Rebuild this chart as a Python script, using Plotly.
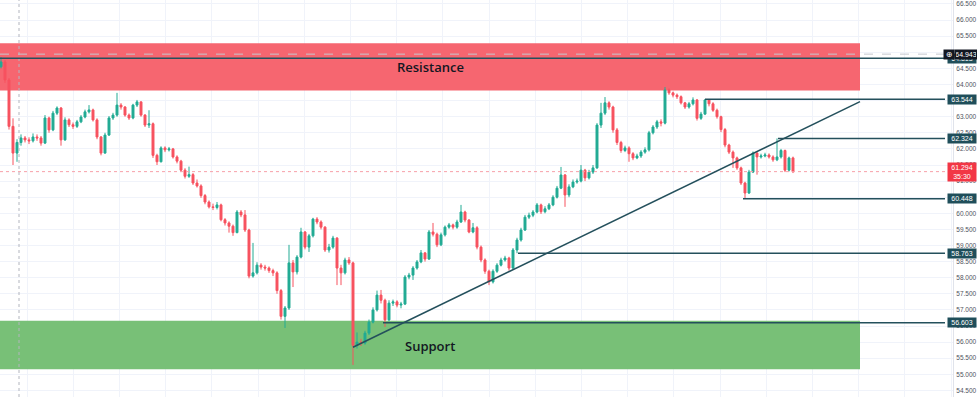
import plotly.graph_objects as go

# ---------------- data ----------------
first_open = 64.55
closes = [
    64.70, 64.14, 62.70, 61.87, 62.20, 62.34, 62.28, 62.25, 62.37, 62.34,
    62.18, 62.96, 62.59, 63.11, 63.27, 62.28, 62.90, 62.75, 62.70, 62.84,
    62.99, 63.15, 63.21, 62.90, 62.37, 61.87, 62.43, 62.96, 63.05, 63.36,
    63.30, 63.05, 62.96, 63.36, 63.46, 63.05, 62.74, 62.78, 61.80, 61.60,
    62.03, 61.97, 62.00, 61.75, 61.62, 61.34, 61.15, 61.20, 60.94, 60.85,
    60.55, 60.35, 60.20, 60.18, 60.26, 59.80, 59.70, 59.60, 59.40, 60.04,
    59.95, 59.48, 58.05, 58.15, 58.39, 58.33, 58.30, 58.22, 58.15, 57.60,
    56.80, 57.06, 58.46, 58.18, 58.64, 59.42, 58.95, 59.30, 59.82, 59.73,
    59.57, 58.86, 58.95, 59.23, 58.30, 58.15, 58.55, 58.46, 55.90, 56.00,
    55.97, 56.28, 56.62, 57.00, 57.46, 57.30, 56.69, 57.21, 57.25, 57.15,
    57.18, 58.02, 58.08, 58.30, 58.49, 58.77, 58.58, 59.42, 59.35, 59.02,
    59.33, 59.57, 59.64, 59.57, 59.73, 60.04, 59.79, 59.42, 59.55, 58.95,
    58.55, 58.20, 57.87, 58.20, 58.39, 58.55, 58.61, 58.30, 58.86, 59.17,
    59.48, 59.88, 59.94, 60.04, 60.26, 60.05, 60.14, 60.26, 60.50, 60.78,
    61.19, 60.57, 60.82, 60.97, 61.00, 61.34, 61.10, 61.28, 61.41, 62.74,
    63.11, 63.43, 63.30, 62.59, 62.20, 61.95, 62.03, 61.85, 61.72, 61.78,
    61.90, 61.97, 62.50, 62.68, 62.84, 62.80, 63.83, 63.74, 63.67, 63.62,
    63.43, 63.30, 63.40, 63.52, 62.95, 63.08, 63.52, 63.40, 63.20, 63.00,
    62.60, 62.12, 61.90, 61.72, 61.41, 60.94, 60.63, 61.28, 61.87, 61.75,
    61.78, 61.81, 61.75, 61.66, 61.75, 61.95, 61.34, 61.72, 61.294,
]
highs = [
    64.85, 64.76, 64.20, 62.95, 62.30, 62.45, 62.40, 62.36, 62.48, 62.45,
    62.40, 63.05, 63.00, 63.18, 63.32, 63.30, 62.98, 62.95, 62.82, 62.90,
    63.05, 63.22, 63.36, 63.25, 62.95, 62.40, 62.50, 63.02, 63.12, 63.74,
    63.42, 63.33, 63.10, 63.40, 63.52, 63.48, 63.08, 63.20, 62.82, 61.85,
    62.08, 62.08, 62.06, 62.03, 61.80, 61.66, 61.40, 61.45, 61.25, 61.05,
    60.90, 60.60, 60.40, 60.30, 60.35, 60.30, 59.85, 59.75, 59.65, 60.10,
    60.10, 60.10, 59.52, 59.08, 58.48, 58.45, 58.40, 58.35, 58.28, 58.20,
    57.65, 57.12, 59.02, 58.55, 58.70, 59.55, 59.45, 59.36, 59.86, 59.88,
    59.78, 59.60, 59.05, 59.30, 59.26, 58.40, 58.62, 58.64, 58.50, 56.30,
    56.10, 56.35, 56.70, 57.08, 57.60, 57.62, 57.35, 57.30, 57.32, 57.30,
    57.25, 58.08, 58.15, 58.36, 58.55, 58.86, 58.80, 59.48, 59.70, 59.40,
    59.40, 59.62, 59.70, 59.68, 59.80, 60.26, 60.08, 59.82, 59.70, 59.60,
    59.00, 58.60, 58.25, 58.26, 58.45, 58.62, 58.68, 58.65, 58.92, 59.24,
    59.55, 59.95, 60.02, 60.10, 60.32, 60.30, 60.22, 60.32, 60.56, 60.85,
    61.44, 61.22, 60.90, 61.05, 61.08, 61.50, 61.38, 61.35, 61.50, 62.80,
    63.43, 63.61, 63.48, 63.34, 62.65, 62.25, 62.10, 62.08, 61.90, 61.85,
    61.96, 62.05, 62.56, 62.74, 62.90, 62.92, 63.92, 63.88, 63.78, 63.72,
    63.66, 63.46, 63.46, 63.60, 63.55, 63.15, 63.544, 63.54, 63.45, 63.25,
    63.03, 62.65, 62.16, 61.95, 61.76, 61.45, 60.98, 61.35, 61.92, 61.90,
    61.85, 61.88, 61.86, 61.80, 62.324, 62.00, 61.98, 61.76, 61.76,
]
lows = [
    64.50, 64.05, 62.60, 61.50, 61.60, 62.10, 62.20, 62.15, 62.20, 62.25,
    62.10, 62.15, 62.50, 62.55, 63.05, 62.10, 62.25, 62.68, 62.62, 62.65,
    62.80, 62.95, 63.10, 62.85, 62.30, 61.80, 61.85, 62.40, 62.90, 63.00,
    63.22, 63.00, 62.90, 62.92, 63.30, 63.00, 62.68, 62.65, 61.72, 61.50,
    61.58, 61.90, 61.92, 61.70, 61.55, 61.28, 61.08, 61.10, 60.88, 60.80,
    60.48, 60.28, 60.15, 60.10, 60.12, 59.75, 59.62, 59.40, 59.30, 59.38,
    59.88, 59.42, 57.98, 58.00, 58.10, 58.25, 58.22, 58.15, 58.05, 57.50,
    56.70, 56.44, 57.00, 57.71, 58.10, 58.60, 58.88, 58.80, 59.25, 59.66,
    59.50, 58.80, 58.78, 58.90, 57.77, 57.77, 58.10, 58.40, 55.29, 55.80,
    55.88, 55.92, 56.22, 56.58, 56.95, 57.20, 56.47, 56.65, 57.12, 57.08,
    57.05, 57.15, 57.95, 57.93, 58.25, 58.45, 58.50, 58.55, 59.28, 58.95,
    58.98, 59.28, 59.52, 59.50, 59.52, 59.70, 59.72, 59.38, 59.38, 58.88,
    58.48, 58.12, 57.77, 57.82, 58.15, 58.35, 58.50, 58.22, 58.26, 58.76,
    59.12, 59.45, 59.82, 59.88, 60.00, 59.98, 60.00, 60.10, 60.22, 60.46,
    60.75, 60.20, 60.50, 60.78, 60.92, 60.96, 61.00, 61.05, 61.22, 61.38,
    62.65, 63.05, 63.22, 62.50, 62.12, 61.88, 61.90, 61.60, 61.65, 61.68,
    61.72, 61.85, 61.92, 62.45, 62.62, 62.70, 62.76, 63.68, 63.60, 63.55,
    63.38, 63.24, 63.25, 63.35, 62.88, 62.90, 63.05, 63.32, 63.15, 62.94,
    62.52, 62.05, 61.84, 61.41, 61.35, 60.88, 60.448, 60.60, 61.25, 61.20,
    61.70, 61.74, 61.70, 61.60, 61.62, 61.70, 61.28, 61.30, 61.25,
]
opens = [first_open] + closes[:-1]
idx = list(range(len(closes)))

resistance_zone = [63.81, 65.28]
support_zone = [55.16, 56.66]
top_line_level = 64.813
crosshair_level = 64.943
level_values = [63.544, 62.324, 60.448, 58.763, 56.603]
level_start_idx = [176.0, 194.25, 185.5, 129.25, 95.5]
trend_x = [88.0, 214.75]
trend_y = [55.84, 63.47]
current_price = 61.294
countdown = "35:30"
ytick_vals = [54.5 + 0.5 * k for k in range(25)]

# ---------------- layout constants ----------------
W, H = 977, 397
R_MARGIN = 24
X_RANGE = [-0.25, 238.0]
Y_RANGE = [54.295, 66.624]
ZONE_END = 214.75
LINE_END = 236.0
LEVEL_COLOR = "#24505c"
LABEL_BG = "#1f4e5a"

fig = go.Figure()
fig.add_trace(go.Candlestick(
    x=idx, open=opens, high=highs, low=lows, close=closes,
    increasing=dict(line=dict(color="#22ab94", width=1), fillcolor="#22ab94"),
    decreasing=dict(line=dict(color="#f7525f", width=1), fillcolor="#f7525f"),
    whiskerwidth=0, showlegend=False, hoverinfo="skip",
))

shapes = []
shapes.append(dict(type="rect", xref="x", yref="y", x0=X_RANGE[0], x1=ZONE_END,
                   y0=resistance_zone[0], y1=resistance_zone[1],
                   fillcolor="#f66670", line=dict(width=0), layer="between"))
shapes.append(dict(type="rect", xref="x", yref="y", x0=X_RANGE[0], x1=ZONE_END,
                   y0=support_zone[0], y1=support_zone[1],
                   fillcolor="#78c077", line=dict(width=0), layer="between"))
shapes.append(dict(type="line", xref="x", yref="paper", x0=4.5, x1=4.5, y0=0, y1=1,
                   line=dict(color="#b2b5be", width=1, dash="dot")))
shapes.append(dict(type="line", xref="x", yref="y", x0=X_RANGE[0], x1=LINE_END,
                   y0=crosshair_level, y1=crosshair_level,
                   line=dict(color="#c4c7ce", width=1, dash="dash")))
shapes.append(dict(type="line", xref="x", yref="y", x0=X_RANGE[0], x1=X_RANGE[1],
                   y0=current_price, y1=current_price,
                   line=dict(color="#f7a1a8", width=1, dash="dot")))
shapes.append(dict(type="line", xref="x", yref="y", x0=X_RANGE[0], x1=LINE_END,
                   y0=top_line_level, y1=top_line_level,
                   line=dict(color=LEVEL_COLOR, width=1.5)))
for lv, st in zip(level_values, level_start_idx):
    shapes.append(dict(type="line", xref="x", yref="y", x0=st, x1=LINE_END,
                       y0=lv, y1=lv, line=dict(color=LEVEL_COLOR, width=1.5)))
shapes.append(dict(type="line", xref="x", yref="y", x0=trend_x[0], x1=trend_x[1],
                   y0=trend_y[0], y1=trend_y[1], line=dict(color=LEVEL_COLOR, width=1.5)))

annotations = []
PW = W - R_MARGIN
label_x = 947 / PW
lab_font = dict(family="Liberation Sans, Arial", size=7, color="white")
annotations.append(dict(xref="paper", yref="y", x=label_x, y=top_line_level, xanchor="left",
                        yanchor="middle", text="64.813", showarrow=False, font=lab_font,
                        bgcolor=LABEL_BG, borderpad=1, width=26))
annotations.append(dict(xref="paper", yref="y", x=954 / PW, y=crosshair_level,
                        xanchor="left", yanchor="middle", text="64.943", showarrow=False,
                        font=lab_font, bgcolor="#131722", borderpad=1, width=20))
annotations.append(dict(xref="paper", yref="y", x=943 / PW, y=crosshair_level,
                        xanchor="left", yanchor="middle", text="⊕", showarrow=False,
                        font=dict(family="DejaVu Sans", size=8, color="white"),
                        bgcolor="#131722", borderpad=0, width=10))
for lv in level_values:
    annotations.append(dict(xref="paper", yref="y", x=label_x, y=lv, xanchor="left",
                            yanchor="middle", text=f"{lv:.3f}", showarrow=False,
                            font=lab_font, bgcolor=LABEL_BG, borderpad=1, width=26))
annotations.append(dict(xref="paper", yref="y", x=label_x, y=current_price, xanchor="left",
                        yanchor="middle", text=f"{current_price:.3f}<br>{countdown}",
                        showarrow=False, font=lab_font, bgcolor="#f23645", borderpad=1,
                        width=26))
annotations.append(dict(xref="x", yref="y", x=107.25, y=64.54, text="Resistance",
                        showarrow=False, font=dict(family="Open Sans", size=13,
                                                   color="#131722", weight=600)))
annotations.append(dict(xref="x", yref="y", x=107.25, y=55.88, text="Support",
                        showarrow=False, font=dict(family="Open Sans", size=13,
                                                   color="#131722", weight=600)))

fig.update_layout(
    width=W, height=H,
    margin=dict(l=0, r=R_MARGIN, t=0, b=0, autoexpand=False),
    paper_bgcolor="white", plot_bgcolor="white",
    shapes=shapes, annotations=annotations, showlegend=False,
    xaxis=dict(range=X_RANGE, showticklabels=False, showgrid=True, gridcolor="#f0f3fa",
               tick0=6.5, dtick=11.55, zeroline=False, rangeslider=dict(visible=False),
               fixedrange=True),
    yaxis=dict(range=Y_RANGE, side="right", tickvals=ytick_vals,
               ticktext=[f"{v:.3f}" for v in ytick_vals], showgrid=True,
               gridcolor="#f0f3fa", zeroline=False, ticks="", ticklabelstandoff=1,
               tickfont=dict(family="Liberation Sans, Arial", size=6.5, color="#50535e"),
               showline=True, linecolor="#e0e3eb", linewidth=1, fixedrange=True),
)

fig.write_html("out.html", config={"displayModeBar": False},
               post_script="document.body.style.margin='0';document.body.style.overflow='hidden';")
